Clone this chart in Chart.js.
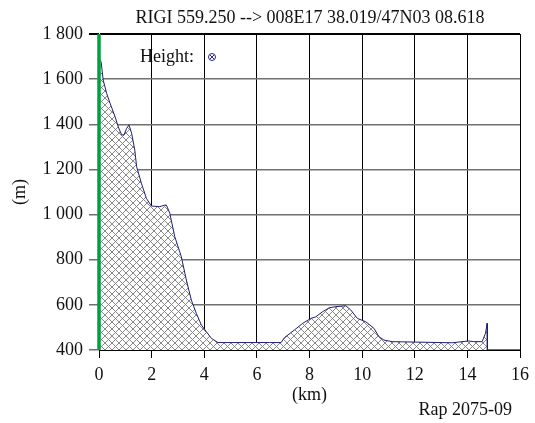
<!DOCTYPE html>
<html>
<head>
<meta charset="utf-8">
<script src="https://cdn.jsdelivr.net/npm/chart.js@4"></script>
<style>
  html, body { margin: 0; padding: 0; background: #fff; }
  #wrap { width: 535px; height: 423px; }
</style>
</head>
<body>
<div id="wrap"><canvas id="canvas1" width="535" height="423"></canvas></div>
<script>
// profile
const distKm = [0, 0.08, 0.16, 0.29, 0.42, 0.61, 0.73, 0.86, 0.95, 1.05,
    1.14, 1.24, 1.36, 1.43, 1.61, 1.8, 1.99, 2.31, 2.5, 2.56,
    2.69, 2.88, 3.13, 3.32, 3.51, 3.7, 3.89, 4.08, 4.27, 4.52,
    6.48, 6.92, 7.05, 7.42, 7.74, 8.05, 8.24, 8.5, 8.75, 9.0,
    9.38, 9.57, 9.82, 10.14, 10.45, 10.64, 10.83, 11.14, 13.42, 13.8,
    14.05, 14.24, 14.56, 14.69, 14.75, 14.76];
const heightM = [1690, 1677, 1596, 1537, 1493, 1434, 1389, 1353, 1353, 1382,
    1397, 1360, 1286, 1212, 1139, 1072, 1038, 1035, 1042, 1042,
    1006, 902, 813, 710, 621, 562, 511, 481, 452, 433,
    433, 433, 455, 488, 518, 540, 547, 570, 587, 592,
    596, 577, 540, 525, 496, 459, 444, 437, 432, 437,
    440, 437, 437, 474, 518, 400];
const startLine = [400, 1800];

const titleText = 'RIGI 559.250 --> 008E17 38.019/47N03 08.618';
const legendText = 'Height:';
const noteText = 'Rap 2075-09';

const serif = '"Liberation Serif", "Times New Roman", serif';

// cross hatch fill
const hatch = () => {
    const c = document.createElement('canvas');
    c.width = 7; c.height = 7;
    const g = c.getContext('2d');
    g.fillStyle = '#fff';
    g.fillRect(0, 0, 7, 7);
    g.strokeStyle = '#7a7a7a';
    g.lineWidth = 0.9;
    g.beginPath();
    g.moveTo(0, 0); g.lineTo(7, 7);
    g.moveTo(7, 0); g.lineTo(0, 7);
    g.stroke();
    return g.createPattern(c, 'repeat');
};

const texts = {
    id: 'texts',
    afterDraw(chart) {
        const ctx = chart.ctx;
        ctx.save();
        ctx.fillStyle = '#111';
        ctx.font = '18px ' + serif;
        ctx.textBaseline = 'middle';
        ctx.textAlign = 'center';
        ctx.fillText(titleText, 310, 18);
        ctx.textAlign = 'left';
        ctx.fillText(legendText, 140, 57);
        ctx.textAlign = 'right';
        ctx.fillText(noteText, 512, 410);
        // legend marker
        ctx.strokeStyle = '#2a2a8a';
        ctx.lineWidth = 1;
        ctx.beginPath();
        ctx.arc(212, 57, 3.5, 0, Math.PI * 2);
        ctx.moveTo(210, 55); ctx.lineTo(214, 59);
        ctx.moveTo(214, 55); ctx.lineTo(210, 59);
        ctx.stroke();
        ctx.restore();
    }
};

const profile = distKm.map((d, i) => ({x: d, y: heightM[i]}));

new Chart(document.getElementById('canvas1'), {
    type: 'line',
    data: {
        datasets: [{
            label: 'Height',
            data: profile,
            borderColor: '#1e1e78',
            borderWidth: 1,
            backgroundColor: hatch(),
            fill: {value: 400},
            pointRadius: 0,
            tension: 0,
            order: 2
        }, {
            label: 'start',
            data: startLine.map(v => ({x: 0, y: v})),
            borderColor: '#00a040',
            borderWidth: 3.5,
            pointRadius: 0,
            fill: false,
            clip: false,
            order: 1
        }]
    },
    options: {
        responsive: false,
        animation: false,
        layout: {padding: {top: 34, right: 14, left: 0, bottom: 0}},
        plugins: {
            legend: {display: false},
            title: {display: false},
            tooltip: {enabled: false}
        },
        scales: {
            x: {
                type: 'linear',
                min: 0, max: 16,
                afterFit: (s) => { s.height = 73; },
                ticks: {stepSize: 2, color: '#111', padding: 6, font: {family: serif, size: 18}},
                grid: {color: '#000', lineWidth: 1, tickLength: 8},
                border: {color: '#000', width: 1},
                title: {display: true, text: '(km)', color: '#111', padding: {top: 0, bottom: 17}, font: {family: serif, size: 18}}
            },
            y: {
                min: 400, max: 1800,
                afterFit: (s) => { s.width = 99; },
                ticks: {
                    stepSize: 200, color: '#111', padding: 6,
                    font: {family: serif, size: 18},
                    callback: (v) => String(v).replace(/\B(?=(\d{3})+(?!\d))/g, ' ')
                },
                grid: {color: (c) => c.tick && c.tick.value === 1800 ? '#000' : '#707070', lineWidth: (c) => c.tick && c.tick.value === 1800 ? 2 : 1.5, tickLength: 10},
                border: {color: '#000', width: 1},
                title: {display: true, text: '(m)', color: '#111', padding: 9, font: {family: serif, size: 18}}
            }
        }
    },
    plugins: [texts]
});
</script>
</body>
</html>
